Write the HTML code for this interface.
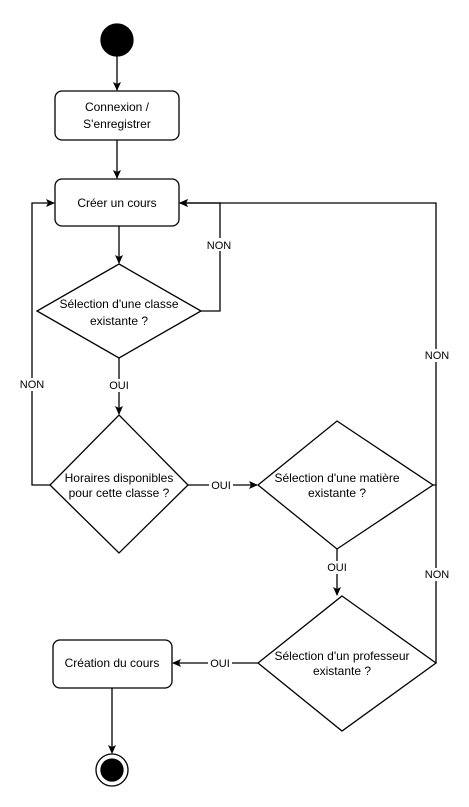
<!DOCTYPE html>
<html><head><meta charset="utf-8"><style>
html,body{margin:0;padding:0;background:#fff;}
svg{display:block;font-family:"Liberation Sans",sans-serif;font-size:12px;}
</style></head><body>
<svg width="469" height="807" viewBox="0 0 469 807" xmlns="http://www.w3.org/2000/svg">
<defs><marker id="a" markerWidth="10" markerHeight="10" refX="8" refY="4" orient="auto" markerUnits="userSpaceOnUse"><path d="M0,0 L9,4 L0,8 L2,4 Z" fill="#000"/></marker></defs>
<g stroke="#000" stroke-width="1.3" fill="none">
<circle cx="117" cy="40" r="16" fill="#000"/>
<line x1="117" y1="56" x2="117" y2="90" marker-end="url(#a)"/>
<rect x="55" y="91" width="124" height="49" rx="7" fill="#fff"/>
<line x1="117" y1="140" x2="117" y2="178" marker-end="url(#a)"/>
<rect x="55" y="179" width="124" height="47" rx="7" fill="#fff"/>
<line x1="119" y1="226" x2="119" y2="263" marker-end="url(#a)"/>
<polygon points="119,264 201,311 119,358 37,311" fill="#fff"/>
<polyline points="201,311 220,311 220,203 180,203" marker-end="url(#a)"/>
<line x1="119" y1="358" x2="119" y2="414" marker-end="url(#a)"/>
<polygon points="119,415 188,485 119,553 50,485" fill="#fff"/>
<polyline points="50,485 32,485 32,203 54,203" marker-end="url(#a)"/>
<line x1="188" y1="485" x2="257" y2="485" marker-end="url(#a)"/>
<polygon points="337,421 433,485 337,549 258,485" fill="#fff"/>
<polyline points="433,485 436,485 436,203 180,203" marker-end="url(#a)"/>
<line x1="337" y1="549" x2="337" y2="595" marker-end="url(#a)"/>
<polygon points="342,596 436,663 342,731 258,663" fill="#fff"/>
<polyline points="436,663 436,485"/>
<line x1="258" y1="663" x2="173" y2="663" marker-end="url(#a)"/>
<rect x="53" y="640" width="119" height="48" rx="7" fill="#fff"/>
<line x1="112" y1="688" x2="112" y2="753" marker-end="url(#a)"/>
<circle cx="112" cy="770" r="16" fill="#fff"/>
<circle cx="112" cy="770" r="11" fill="#000"/>
</g>
<g fill="#000" text-anchor="middle">
<text x="117" y="111">Connexion /</text>
<text x="117" y="128">S'enregistrer</text>
<text x="117" y="207">Créer un cours</text>
<text x="119" y="308">Sélection d'une classe</text>
<text x="119" y="325">existante ?</text>
<text x="119" y="482">Horaires disponibles</text>
<text x="119" y="497">pour cette classe ?</text>
<text x="337" y="482">Sélection d'une matière</text>
<text x="337" y="497">existante ?</text>
<text x="342" y="660">Sélection d'un professeur</text>
<text x="342" y="675">existante ?</text>
<text x="112" y="667">Création du cours</text>
</g>
<g font-size="11" text-anchor="middle">
<rect x="205" y="238" width="28" height="13" fill="#fff"/><text x="219" y="249">NON</text>
<rect x="18" y="378" width="28" height="13" fill="#fff"/><text x="32" y="388">NON</text>
<rect x="423" y="349" width="28" height="13" fill="#fff"/><text x="437" y="359">NON</text>
<rect x="423" y="568" width="28" height="13" fill="#fff"/><text x="437" y="578">NON</text>
<rect x="107" y="379" width="24" height="13" fill="#fff"/><text x="119" y="389">OUI</text>
<rect x="209" y="479" width="24" height="13" fill="#fff"/><text x="221" y="489">OUI</text>
<rect x="325" y="561" width="24" height="13" fill="#fff"/><text x="337" y="571">OUI</text>
<rect x="208" y="657" width="24" height="13" fill="#fff"/><text x="220" y="667">OUI</text>
</g>
</svg>
</body></html>
